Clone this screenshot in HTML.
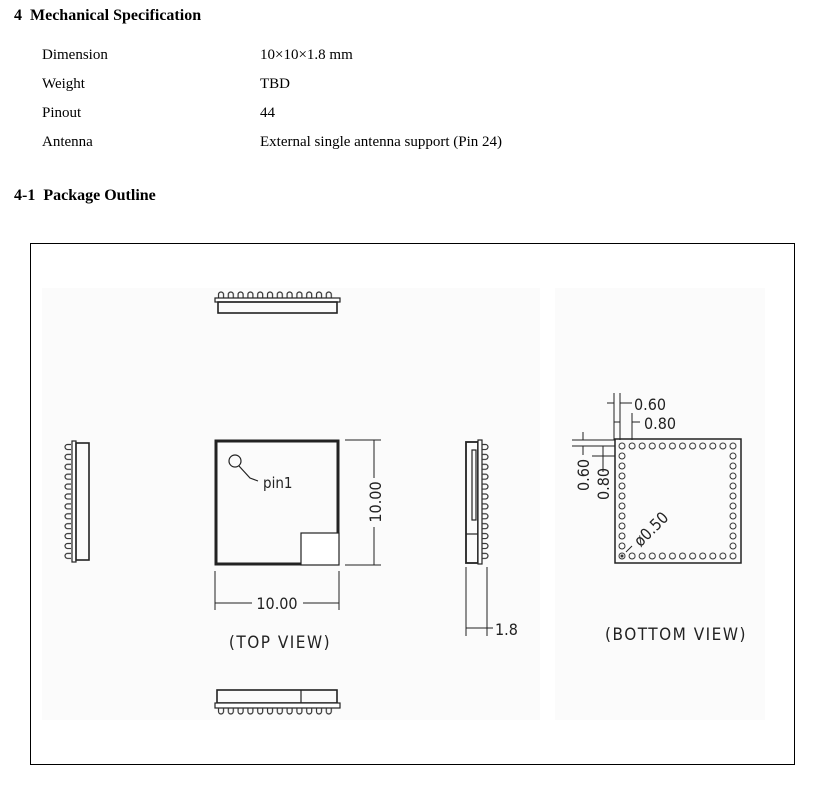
<!DOCTYPE html>
<html><head><meta charset="utf-8"><style>
html,body{margin:0;padding:0;background:#fff;}
svg{display:block;}
.s{font-family:"Liberation Serif",serif;fill:#000;white-space:pre;}
.c{font-family:"DejaVu Sans Condensed","Liberation Sans",sans-serif;fill:#222;}
</style></head><body>
<svg width="825" height="795" viewBox="0 0 825 795" xmlns="http://www.w3.org/2000/svg">
<defs>
<pattern id="padH" patternUnits="userSpaceOnUse" x="617" y="0" width="10.09" height="900">
<circle cx="5" cy="446" r="3" fill="none" stroke="#333" stroke-width="1"/>
<circle cx="5" cy="556" r="3" fill="none" stroke="#333" stroke-width="1"/>
</pattern>
<pattern id="padV" patternUnits="userSpaceOnUse" x="0" y="441" width="900" height="10">
<circle cx="622" cy="5" r="3" fill="none" stroke="#333" stroke-width="1"/>
<circle cx="733" cy="5" r="3" fill="none" stroke="#333" stroke-width="1"/>
</pattern>
<pattern id="bumpT" patternUnits="userSpaceOnUse" x="217" y="291" width="9.8" height="8">
<path d="M1.5,7 V3.5 A2.5,2.5 0 0 1 6.5,3.5 V7" fill="none" stroke="#333" stroke-width="1.2"/>
</pattern>
<pattern id="bumpB" patternUnits="userSpaceOnUse" x="217" y="708" width="9.8" height="8">
<path d="M1.5,0 V3.5 A2.5,2.5 0 0 0 6.5,3.5 V0" fill="none" stroke="#333" stroke-width="1.2"/>
</pattern>
<pattern id="bumpL" patternUnits="userSpaceOnUse" x="64" y="443" width="8" height="9.9">
<path d="M7,1.5 H3.5 A2.5,2.5 0 0 0 3.5,6.5 H7" fill="none" stroke="#333" stroke-width="1.2"/>
</pattern>
<pattern id="bumpR" patternUnits="userSpaceOnUse" x="482" y="443" width="8" height="9.9">
<path d="M0,1.5 H3.5 A2.5,2.5 0 0 1 3.5,6.5 H0" fill="none" stroke="#333" stroke-width="1.2"/>
</pattern>
</defs>

<text class="s" x="14" y="20" font-size="16" font-weight="bold" xml:space="preserve">4  Mechanical Specification</text>
<text class="s" x="42" y="59" font-size="15">Dimension</text>
<text class="s" x="260" y="59" font-size="15">10×10×1.8 mm</text>
<text class="s" x="42" y="88" font-size="15">Weight</text>
<text class="s" x="260" y="88" font-size="15">TBD</text>
<text class="s" x="42" y="117" font-size="15">Pinout</text>
<text class="s" x="260" y="117" font-size="15">44</text>
<text class="s" x="42" y="146" font-size="15">Antenna</text>
<text class="s" x="260" y="146" font-size="15">External single antenna support (Pin 24)</text>
<text class="s" x="14" y="200" font-size="16" font-weight="bold" xml:space="preserve">4-1  Package Outline</text>

<rect x="30.5" y="243.5" width="764" height="521" fill="#fff" stroke="#000" stroke-width="1"/>
<rect x="42" y="288" width="498" height="432" fill="#fbfbfb"/>
<rect x="555" y="288" width="210" height="432" fill="#fbfbfb"/>

<g stroke="#222" fill="none" stroke-width="1.2">
<rect x="217" y="291" width="118" height="7" fill="url(#bumpT)" stroke="none"/>
<rect x="215" y="298" width="125" height="4" fill="#fff"/>
<rect x="218" y="302" width="119" height="11" stroke-width="1.6"/>
<rect x="217" y="690" width="120" height="13" stroke-width="1.6"/>
<line x1="301" y1="690" x2="301" y2="703"/>
<rect x="215" y="703" width="125" height="5" fill="#fff"/>
<rect x="217" y="708" width="118" height="8" fill="url(#bumpB)" stroke="none"/>
<rect x="64" y="443" width="8" height="118" fill="url(#bumpL)" stroke="none"/>
<rect x="72" y="441" width="4" height="121" fill="#fff"/>
<rect x="76" y="443" width="13" height="117" stroke-width="1.6"/>
<rect x="466" y="442" width="12" height="121" stroke-width="1.8"/>
<rect x="472" y="450" width="4" height="70"/>
<line x1="466" y1="534" x2="478" y2="534"/>
<rect x="478" y="440" width="4" height="124" fill="#fff"/>
<rect x="482" y="443" width="8" height="118" fill="url(#bumpR)" stroke="none"/>
<line x1="466" y1="567" x2="466" y2="636" stroke-width="1"/>
<line x1="487" y1="567" x2="487" y2="636" stroke-width="1"/>
<line x1="466" y1="628" x2="493" y2="628" stroke-width="1"/>

<rect x="216" y="441" width="122" height="123" stroke-width="3"/>
<rect x="301" y="533" width="38" height="32" fill="#fff" stroke-width="1.2"/>
<circle cx="235" cy="461" r="6"/>
<path d="M239,466 L250,478 L258,481"/>
<line x1="345" y1="440" x2="381" y2="440" stroke-width="1"/>
<line x1="345" y1="565" x2="381" y2="565" stroke-width="1"/>
<line x1="374" y1="440" x2="374" y2="478" stroke-width="1"/>
<line x1="374" y1="527" x2="374" y2="565" stroke-width="1"/>
<line x1="215" y1="571" x2="215" y2="610" stroke-width="1"/>
<line x1="339" y1="571" x2="339" y2="610" stroke-width="1"/>
<line x1="215" y1="603" x2="252" y2="603" stroke-width="1"/>
<line x1="303" y1="603" x2="339" y2="603" stroke-width="1"/>

<rect x="615" y="439" width="126" height="124" stroke-width="1.5"/>
<rect x="617" y="440" width="122" height="120" fill="url(#padH)" stroke="none"/>
<rect x="615" y="451" width="126" height="100" fill="url(#padV)" stroke="none"/>
<circle cx="622" cy="556" r="1.5" fill="#333" stroke="none"/>
<line x1="614" y1="393" x2="614" y2="440" stroke-width="1"/>
<line x1="620" y1="393" x2="620" y2="440" stroke-width="1"/>
<line x1="632" y1="413" x2="632" y2="440" stroke-width="1"/>
<line x1="607" y1="403" x2="614" y2="403" stroke-width="1"/>
<line x1="620" y1="403" x2="632" y2="403" stroke-width="1"/>
<line x1="614" y1="422" x2="620" y2="422" stroke-width="1"/>
<line x1="632" y1="422" x2="640" y2="422" stroke-width="1"/>
<line x1="572" y1="440" x2="615" y2="440" stroke-width="1"/>
<line x1="572" y1="446" x2="615" y2="446" stroke-width="1"/>
<line x1="592" y1="456" x2="615" y2="456" stroke-width="1"/>
<line x1="583" y1="432" x2="583" y2="440" stroke-width="1"/>
<line x1="583" y1="446" x2="583" y2="455" stroke-width="1"/>
<line x1="603" y1="446" x2="603" y2="472" stroke-width="1"/>
<line x1="626" y1="552" x2="632" y2="546" stroke-width="1"/>
</g>

<text class="c" x="263" y="488" font-size="15">pin1</text>
<text class="c" x="0" y="0" font-size="16" text-anchor="middle" transform="translate(381,502) rotate(-90)">10.00</text>
<text class="c" x="277" y="609" font-size="16" text-anchor="middle">10.00</text>
<text class="c" x="280" y="648" font-size="17" text-anchor="middle" letter-spacing="1.5">(TOP VIEW)</text>
<text class="c" x="495" y="635" font-size="16">1.8</text>
<text class="c" x="634" y="410" font-size="16">0.60</text>
<text class="c" x="644" y="429" font-size="16">0.80</text>
<text class="c" x="0" y="0" font-size="16" text-anchor="middle" transform="translate(589,475) rotate(-90)">0.60</text>
<text class="c" x="0" y="0" font-size="16" text-anchor="middle" transform="translate(609,484) rotate(-90)">0.80</text>
<text class="c" x="0" y="0" font-size="16" text-anchor="middle" transform="translate(655,533) rotate(-45)">ø0.50</text>
<text class="c" x="676" y="640" font-size="17" text-anchor="middle" letter-spacing="1.5">(BOTTOM VIEW)</text>
</svg>
</body></html>
